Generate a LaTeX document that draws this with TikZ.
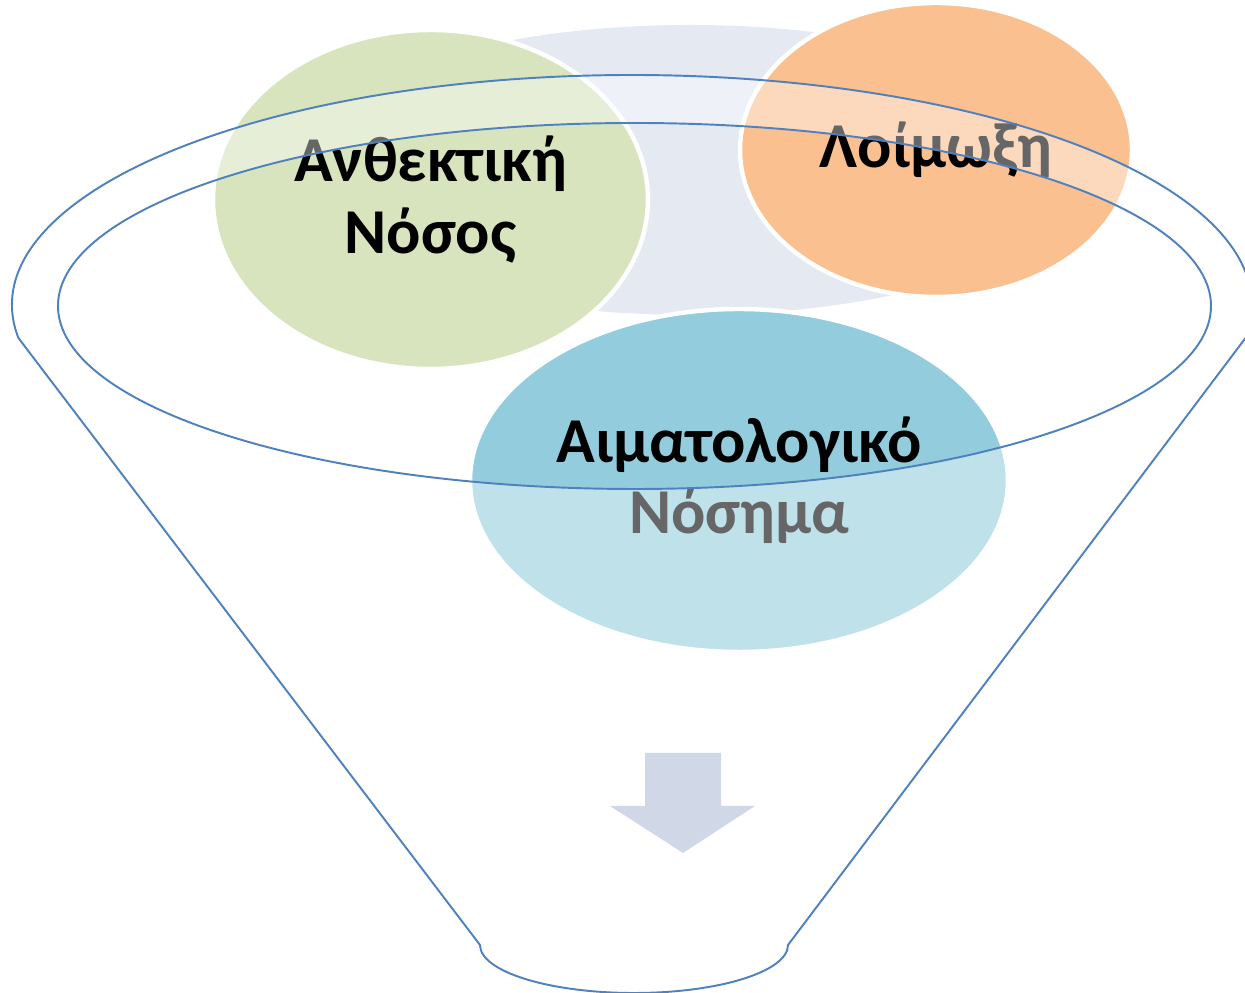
\documentclass[tikz,border=0pt]{standalone}
\usepackage{fontspec}
\setmainfont{Carlito}
\usetikzlibrary{shapes.geometric}
\definecolor{lav}{RGB}{228,233,242}
\definecolor{grn}{RGB}{215,228,189}
\definecolor{org}{RGB}{250,192,144}
\definecolor{blu}{RGB}{147,205,221}
\definecolor{fun}{RGB}{79,129,189}
\definecolor{arr}{RGB}{208,216,232}
\begin{document}
\begin{tikzpicture}[x=0.02cm,y=0.02cm,
  bubble/.style={ellipse, draw=white, line width=2.5pt, inner sep=0pt, align=center,
    font=\fontsize{36.4}{40.5}\selectfont\bfseries, text=black},
  funnelline/.style={draw=fun, line width=1.1pt},
  veil/.style={fill=white, fill opacity=0.4, even odd rule}]
\useasboundingbox (0,0) rectangle (1245,993);
\clip (0,0) rectangle (1245,993);
% background arc
\fill[lav] (690,823) ellipse [x radius=400, y radius=145];
% bubbles
\node[bubble, fill=grn, minimum width=8.7cm, minimum height=6.78cm] (resist) at (430.5,793.5) {Ανθεκτική\\Νόσος};
\node[bubble, fill=org, minimum width=7.84cm, minimum height=5.88cm] (infect) at (936,843) {Λοίμωξη};
\node[bubble, fill=blu, minimum width=10.76cm, minimum height=6.86cm] (haem) at (739,512.5) {Αιματολογικό\\Νόσημα};
% funnel body with translucent veil
\path[veil, funnelline]
  (18.4,655) arc[start angle=188.25, end angle=-8.25, x radius=620, y radius=230]
  -- (788,48) arc[start angle=0, end angle=-180, x radius=154, y radius=48] -- cycle
  (634.5,687) ellipse[x radius=576.5, y radius=183];
% down arrow
\fill[arr] (645,240) -- (721,240) -- (721,187) -- (755,187) -- (683,140) -- (610,187) -- (645,187) -- cycle;
\end{tikzpicture}
\end{document}
